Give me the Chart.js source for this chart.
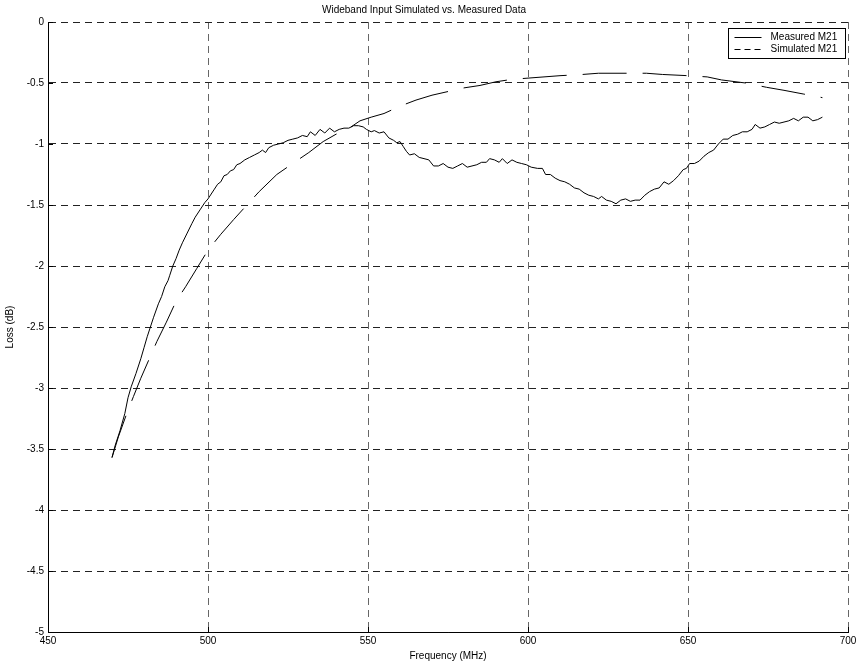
<!DOCTYPE html>
<html>
<head>
<meta charset="utf-8">
<script src="https://cdn.jsdelivr.net/npm/chart.js@4/dist/chart.umd.min.js"></script>
<style>
  html, body { margin: 0; padding: 0; background: #fff; }
  #wrap { width: 862px; height: 666px; }
</style>
</head>
<body>
<div id="wrap"><canvas id="chart"></canvas></div>
<script>
let measured_freq = [470, 471, 472.5, 474, 475, 476, 477.5, 479, 480, 481, 482, 483, 484.5, 485.5, 486.5, 487.5, 488, 489, 490, 491,
    492, 493.5, 495, 496, 497.5, 499, 500, 501, 502, 503, 504, 505, 506, 507, 508, 509, 510, 511.5, 513, 514.5,
    516, 517, 518, 519, 520.5, 522, 523.5, 525, 526.5, 528, 529.5, 531, 532, 533.5, 535, 536.5, 538, 539.5, 541, 542.5,
    544, 545.5, 547, 548.5, 549.5, 551, 552, 553.5, 555, 556.5, 558, 559, 560, 561, 562, 563, 564.5, 566, 567.5, 569,
    570.5, 572, 573.5, 575, 576.5, 578, 579.5, 581, 582.5, 584, 585.5, 587, 588, 589.5, 591, 592, 593.5, 595, 596.5, 598,
    599.5, 601, 603, 604.5, 605.5, 607, 608.5, 610, 611.5, 613, 614.5, 616, 617.5, 619, 620.5, 622, 623, 624.5, 626, 627.5,
    629, 630.5, 632, 633.5, 635, 636.5, 638, 639.5, 641, 642.5, 644, 645.5, 647, 648.5, 649.5, 650.5, 652, 653.5, 655, 656.5,
    658, 659.5, 661, 662.5, 664, 665.5, 667, 668.5, 670, 671, 672.5, 674, 675.5, 677, 678.5, 680, 681.5, 683, 684.5, 686,
    687.5, 689, 690.5, 692];
let measured_loss = [-3.57, -3.47, -3.35, -3.21, -3.08, -2.99, -2.88, -2.76, -2.67, -2.58, -2.5, -2.42, -2.31, -2.25, -2.17, -2.12, -2.08, -2.0, -1.94, -1.87,
    -1.81, -1.73, -1.65, -1.6, -1.54, -1.48, -1.45, -1.41, -1.37, -1.33, -1.31, -1.26, -1.25, -1.22, -1.21, -1.17, -1.16, -1.13, -1.11, -1.09,
    -1.07, -1.05, -1.07, -1.03, -1.01, -1.0, -0.99, -0.97, -0.96, -0.95, -0.93, -0.94, -0.9, -0.93, -0.88, -0.91, -0.87, -0.9, -0.88, -0.87,
    -0.87, -0.85, -0.85, -0.86, -0.88, -0.9, -0.89, -0.91, -0.9, -0.95, -0.97, -0.99, -0.98, -1.02, -1.06, -1.09, -1.08, -1.11, -1.12, -1.13,
    -1.18, -1.18, -1.16, -1.19, -1.2, -1.18, -1.16, -1.19, -1.18, -1.17, -1.15, -1.15, -1.12, -1.13, -1.15, -1.12, -1.16, -1.13, -1.15, -1.16,
    -1.17, -1.19, -1.2, -1.2, -1.25, -1.25, -1.28, -1.3, -1.31, -1.33, -1.36, -1.37, -1.4, -1.42, -1.43, -1.45, -1.43, -1.46, -1.47, -1.49,
    -1.46, -1.45, -1.47, -1.46, -1.46, -1.42, -1.39, -1.37, -1.36, -1.31, -1.33, -1.3, -1.26, -1.21, -1.2, -1.16, -1.16, -1.14, -1.1, -1.07,
    -1.05, -1.0, -0.96, -0.96, -0.93, -0.92, -0.9, -0.9, -0.88, -0.84, -0.87, -0.86, -0.84, -0.82, -0.83, -0.82, -0.81, -0.79, -0.81, -0.78,
    -0.78, -0.81, -0.8, -0.78];

let simulated_freq = [470, 472, 474.6, 476.7, 479, 482, 484, 487, 490, 493, 496.5, 500, 504, 508, 512.5, 516, 521.5, 527, 531.5, 536,
    540, 543.3, 547.5, 551, 555, 560, 565, 570, 575, 580, 585, 590, 595, 600, 605, 610, 617, 622, 630, 637,
    642, 650, 656, 660.5, 668, 674.5, 680, 686, 692];
let simulated_loss = [-3.57, -3.4, -3.21, -3.07, -2.92, -2.74, -2.62, -2.46, -2.29, -2.17, -2.02, -1.87, -1.74, -1.62, -1.49, -1.39, -1.25, -1.15, -1.07, -0.98,
    -0.92, -0.885, -0.81, -0.78, -0.75, -0.69, -0.64, -0.6, -0.57, -0.54, -0.52, -0.49, -0.47, -0.46, -0.45, -0.44, -0.43, -0.42, -0.42, -0.42,
    -0.43, -0.44, -0.45, -0.475, -0.5, -0.535, -0.56, -0.59, -0.62];

let series_labels = ["Measured M21", "Simulated M21"];
let chart_title = "Wideband Input Simulated vs. Measured Data";
let x_title = "Frequency (MHz)";
let y_title = "Loss (dB)";

const FONT = "'Liberation Sans', Arial, Helvetica, sans-serif";

function to_points(xs, ys) {
    return xs.map(function (x, i) { return { x: x, y: ys[i] }; });
}

// legend box in the upper right, plus short inner tick marks on the axes
const extras = {
    id: 'extras',
    afterDraw(chart) {
        let ctx = chart.ctx;
        let area = chart.chartArea;
        let xs = chart.scales.x, ys = chart.scales.y;
        ctx.save();
        ctx.strokeStyle = '#000';
        ctx.lineWidth = 1;
        ctx.beginPath();
        xs.ticks.forEach(function (t) {
            let px = Math.round(xs.getPixelForValue(t.value)) + 0.5;
            ctx.moveTo(px, area.bottom);
            ctx.lineTo(px, area.bottom - 5);
        });
        ys.ticks.forEach(function (t) {
            let py = Math.round(ys.getPixelForValue(t.value)) + 0.5;
            ctx.moveTo(area.left, py);
            ctx.lineTo(area.left + 5, py);
        });
        ctx.stroke();

        let bx = 728.5, by = 28.5, bw = 117, bh = 30;
        ctx.fillStyle = '#fff';
        ctx.fillRect(bx, by, bw, bh);
        ctx.strokeRect(bx, by, bw, bh);
        ctx.font = '10px ' + FONT;
        ctx.fillStyle = '#000';
        ctx.textBaseline = 'middle';
        chart.data.datasets.forEach(function (ds, i) {
            let y = Math.round(by + 8 + i * 12) + 0.5;
            ctx.setLineDash(ds.legendDash || []);
            ctx.beginPath();
            ctx.moveTo(bx + 6, y);
            ctx.lineTo(bx + 33, y);
            ctx.stroke();
            ctx.setLineDash([]);
            ctx.fillText(ds.label, bx + 42, y);
        });
        ctx.restore();
    }
};

let ctx = document.getElementById('chart').getContext('2d');
let myChart = new Chart(ctx, {
    type: 'line',
    data: {
        datasets: [{
            label: series_labels[0],
            data: to_points(measured_freq, measured_loss),
            borderColor: '#000',
            borderWidth: 1,
            pointRadius: 0,
            fill: false,
            legendDash: []
        }, {
            label: series_labels[1],
            data: to_points(simulated_freq, simulated_loss),
            borderColor: '#000',
            borderWidth: 1,
            borderDash: [44, 16],
            pointRadius: 0,
            fill: false,
            legendDash: [6, 4]
        }]
    },
    options: {
        responsive: true,
        maintainAspectRatio: false,
        animation: false,
        layout: { padding: { left: 0, right: 14, top: 0, bottom: 0 } },
        plugins: {
            legend: { display: false },
            tooltip: { enabled: false },
            title: {
                display: true,
                text: chart_title,
                color: '#000',
                font: { family: FONT, size: 10, weight: 'normal' },
                padding: { top: 4, bottom: 6 }
            }
        },
        scales: {
            x: {
                type: 'linear',
                min: 450,
                max: 700,
                ticks: {
                    stepSize: 50,
                    color: '#000',
                    padding: 3,
                    maxRotation: 0,
                    font: { family: FONT, size: 10 }
                },
                grid: { color: '#666', lineWidth: 1, drawTicks: false },
                border: { display: true, color: '#000', width: 1, dash: [7, 5] },
                title: {
                    display: true,
                    text: x_title,
                    color: '#000',
                    font: { family: FONT, size: 10 },
                    padding: { top: 3, bottom: 4 }
                },
                afterFit: function (scale) { scale.height = 34; }
            },
            y: {
                min: -5,
                max: 0,
                ticks: {
                    stepSize: 0.5,
                    color: '#000',
                    padding: 4,
                    font: { family: FONT, size: 10 },
                    callback: function (value) { return String(Math.round(value * 10) / 10); }
                },
                grid: { color: '#222', lineWidth: 1, drawTicks: false },
                border: { display: true, color: '#000', width: 1, dash: [7, 5] },
                title: {
                    display: true,
                    text: y_title,
                    color: '#000',
                    font: { family: FONT, size: 10 },
                    padding: { top: 4, bottom: 0 }
                },
                afterFit: function (scale) { scale.width = 48; }
            }
        }
    },
    plugins: [extras]
});
</script>
</body>
</html>
